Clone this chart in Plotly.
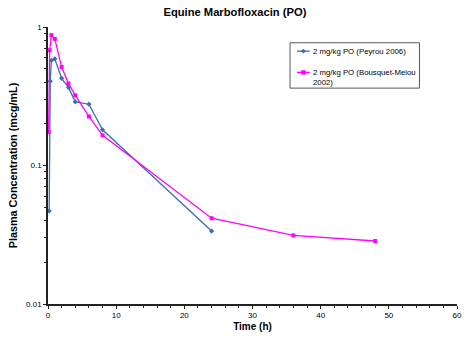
import plotly.graph_objects as go

# Data
peyrou_t = [0.17, 0.33, 0.5, 1, 2, 3, 4, 6, 8, 24]
peyrou_c = [0.047, 0.406, 0.573, 0.589, 0.426, 0.366, 0.288, 0.277, 0.181, 0.0336]
bm_t = [0.083, 0.25, 0.5, 1, 2, 3, 4, 6, 8, 24, 36, 48]
bm_c = [0.174, 0.68, 0.873, 0.82, 0.514, 0.391, 0.321, 0.226, 0.165, 0.0416, 0.0313, 0.0285]
names = ["2 mg/kg PO (Peyrou 2006)", "2 mg/kg PO (Bousquet-Melou<br>2002)"]
colors = ["#3a6eb0", "#ff00ff"]

W, H = 474, 343
L, R, T, B = 48, 12, 27, 35
PW, PH = W - L - R, H - T - B

def px(x):
    return (x - L) / PW

def py(y):
    return 1 - (y - T) / PH

fig = go.Figure()
fig.add_trace(go.Scatter(x=peyrou_t, y=peyrou_c, mode="lines+markers", name=names[0],
                         line=dict(color=colors[0], width=1.3),
                         marker=dict(symbol="diamond", size=4, color=colors[0])))
fig.add_trace(go.Scatter(x=bm_t, y=bm_c, mode="lines+markers", name=names[1],
                         line=dict(color=colors[1], width=1.3),
                         marker=dict(symbol="square", size=4, color=colors[1])))

# custom legend
shapes = [dict(type="rect", xref="paper", yref="paper",
               x0=px(293), x1=px(424), y0=py(89), y1=py(43),
               line=dict(color="#555555", width=1), fillcolor="white", layer="above")]
annotations = []
legend_rows = [51.5, 73]
for i, yy in enumerate(legend_rows):
    shapes.append(dict(type="line", xref="paper", yref="paper",
                       x0=px(300), x1=px(313), y0=py(yy), y1=py(yy),
                       line=dict(color=colors[i], width=1.3), layer="above"))
    cx, cy = 306.5, yy
    if i == 0:
        path = f"M {px(cx-2.2)} {py(cy)} L {px(cx)} {py(cy-2.2)} L {px(cx+2.2)} {py(cy)} L {px(cx)} {py(cy+2.2)} Z"
        shapes.append(dict(type="path", xref="paper", yref="paper", path=path,
                           fillcolor=colors[i], line=dict(color=colors[i], width=0.5), layer="above"))
    else:
        shapes.append(dict(type="rect", xref="paper", yref="paper",
                           x0=px(cx-2), x1=px(cx+2), y0=py(cy+2), y1=py(cy-2),
                           fillcolor=colors[i], line=dict(color=colors[i], width=0.5), layer="above"))
    annotations.append(dict(xref="paper", yref="paper", x=px(315), y=py(yy - 5.2),
                            xanchor="left", yanchor="top", align="left",
                            text=names[i], showarrow=False, borderpad=0,
                            font=dict(size=7.8, color="black")))

fig.update_layout(
    width=W, height=H,
    margin=dict(l=L, r=R, t=T, b=B),
    paper_bgcolor="white", plot_bgcolor="white",
    font=dict(family="Liberation Sans, Arial", color="black", size=8),
    title=dict(text="<b>Equine Marbofloxacin (PO)</b>", x=0.457, xanchor="center",
               xref="paper", y=0.965, yanchor="middle", font=dict(size=11.2)),
    showlegend=False,
    shapes=shapes,
    annotations=annotations,
)
fig.update_xaxes(range=[0, 60], dtick=10, showgrid=False, zeroline=False,
                 showline=True, linecolor="#222222", linewidth=1.5,
                 ticks="outside", ticklen=3, tickcolor="#222222",
                 minor=dict(dtick=2, ticks="outside", ticklen=2, tickcolor="#222222"),
                 tickfont=dict(size=8),
                 title=dict(text="<b>Time (h)</b>", font=dict(size=10), standoff=4))
fig.update_yaxes(type="log", range=[-2, 0], showgrid=False, zeroline=False,
                 showline=True, linecolor="#222222", linewidth=1.5,
                 tickvals=[0.01, 0.1, 1], ticktext=["0.01", "0.1", "1"],
                 ticks="outside", ticklen=3, tickcolor="#222222",
                 minor=dict(dtick="D1", ticks="outside", ticklen=2, tickcolor="#222222"),
                 tickfont=dict(size=8),
                 title=dict(text="<b>Plasma Concentration (mcg/mL)</b>", font=dict(size=10.8), standoff=6))

fig.write_html("out.html")
